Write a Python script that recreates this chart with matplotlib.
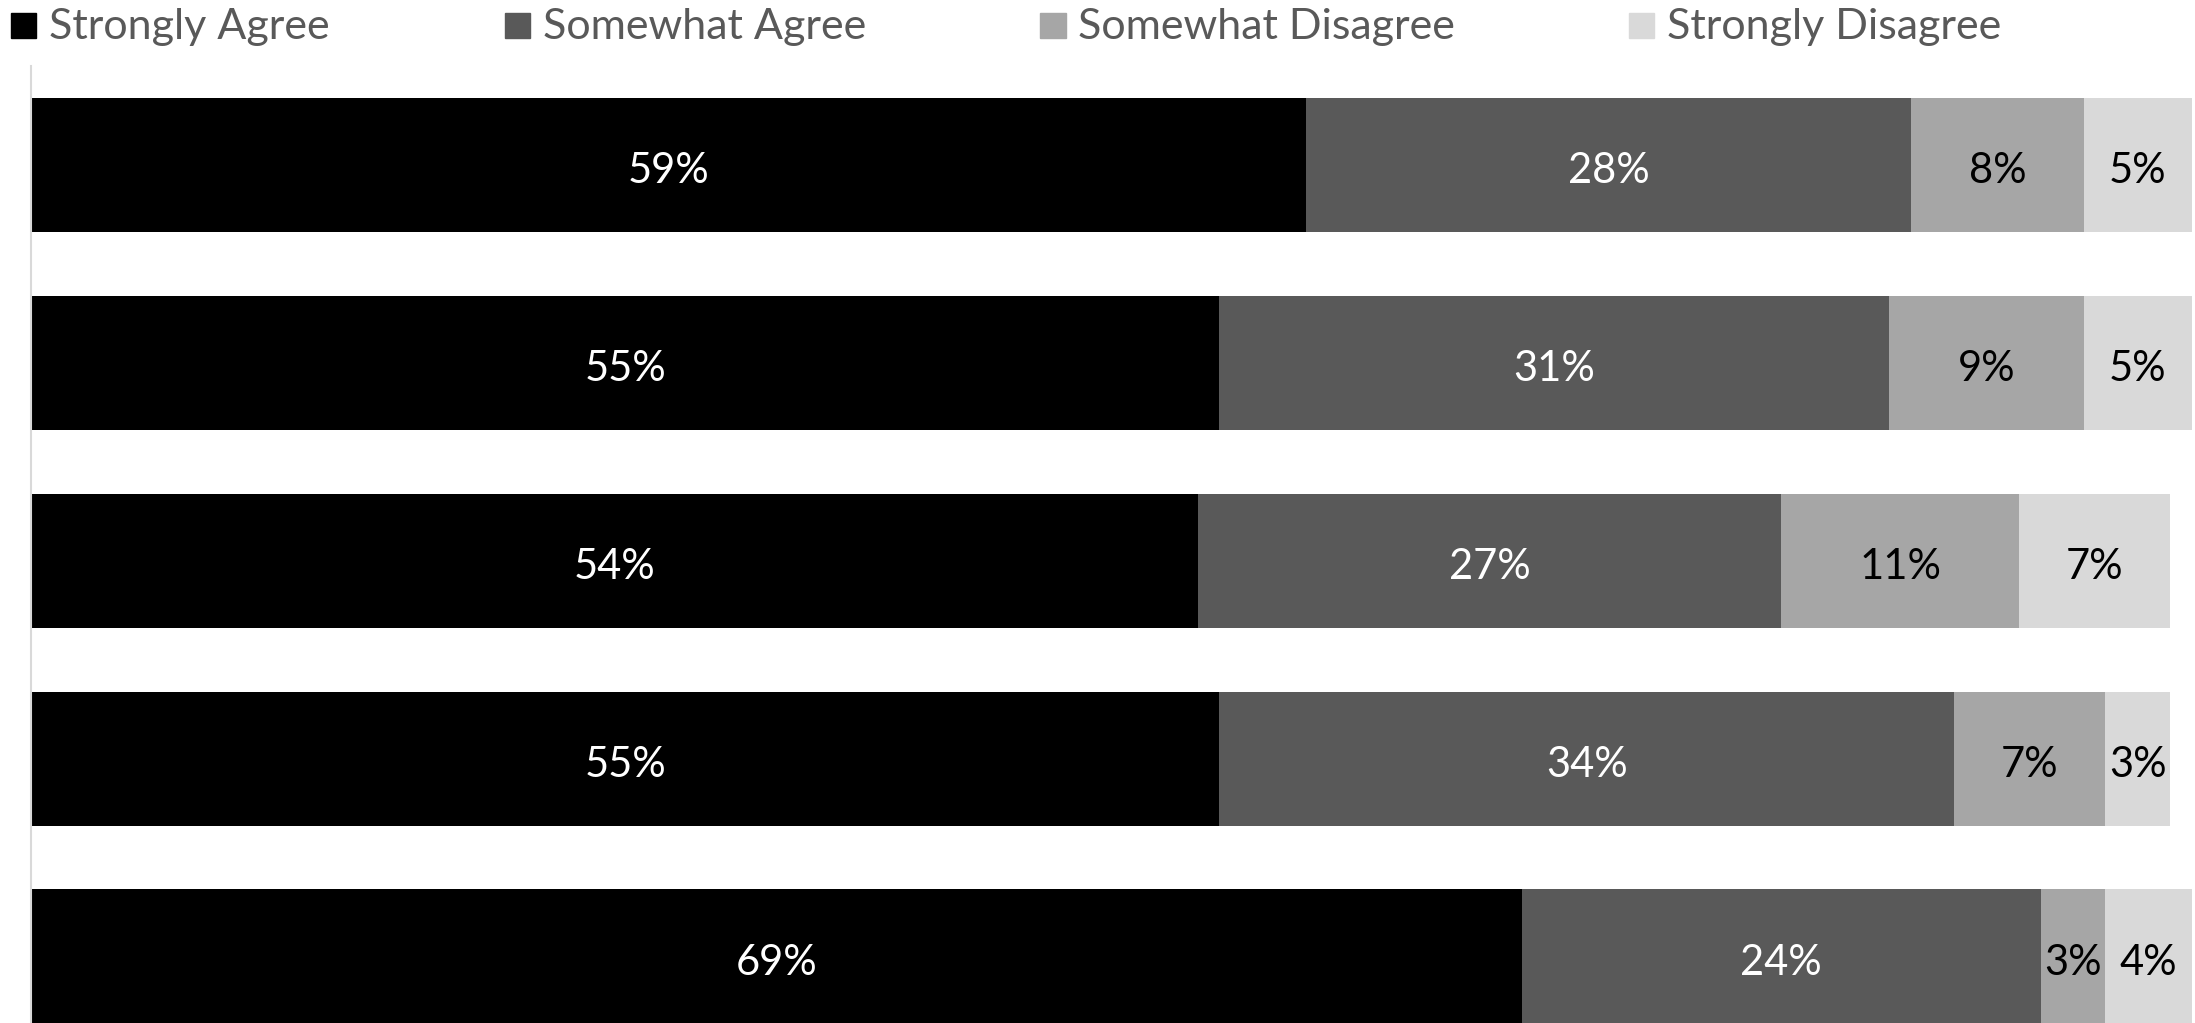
import matplotlib
matplotlib.use('Agg')
import matplotlib.pyplot as plt
import numpy as np

plt.rcParams['font.family'] = ['Lato', 'DejaVu Sans']

# data (rows top to bottom)
rows = ['Q1', 'Q2', 'Q3', 'Q4', 'Q5']
series = ['Strongly Agree', 'Somewhat Agree', 'Somewhat Disagree', 'Strongly Disagree']
strongly_agree = [59, 55, 54, 55, 69]
somewhat_agree = [28, 31, 27, 34, 24]
somewhat_disagree = [8, 9, 11, 7, 3]
strongly_disagree = [5, 5, 7, 3, 4]

values = [strongly_agree, somewhat_agree, somewhat_disagree, strongly_disagree]
colors = ['#000000', '#595959', '#A6A6A6', '#D9D9D9']
text_colors = ['white', 'white', 'black', 'black']

fig = plt.figure(figsize=(21.95, 10.23), dpi=100)
ax = fig.add_axes([0.0141, -0.032, 0.9845, 0.9675])

y = np.arange(len(rows))
left = np.zeros(len(rows))
for vals, c, tc in zip(values, colors, text_colors):
    vals = np.array(vals, dtype=float)
    ax.barh(y, vals, left=left, height=0.68, color=c, edgecolor='none')
    for yi, l, v in zip(y, left, vals):
        ax.text(l + v / 2, yi + 0.03, '%d%%' % v, ha='center', va='center',
                color=tc, fontsize=30)
    left += vals

ax.set_xlim(0, 100)
ax.set_ylim(len(rows) - 0.5, -0.5)
ax.set_xticks([])
ax.set_yticks([])
for s in ['top', 'right', 'bottom']:
    ax.spines[s].set_visible(False)
ax.spines['left'].set_color('#D9D9D9')
ax.spines['left'].set_linewidth(1.5)

# legend across the top
leg_x = [0.005, 0.230, 0.474, 0.742]
for lx, name, c in zip(leg_x, series, colors):
    fig.patches.append(plt.Rectangle((lx, 0.963), 0.0115, 0.0245, transform=fig.transFigure,
                                     color=c, figure=fig))
    fig.text(lx + 0.0173, 0.974, name, ha='left', va='center', fontsize=31, color='#595959')

fig.savefig('out.png', dpi=100)
